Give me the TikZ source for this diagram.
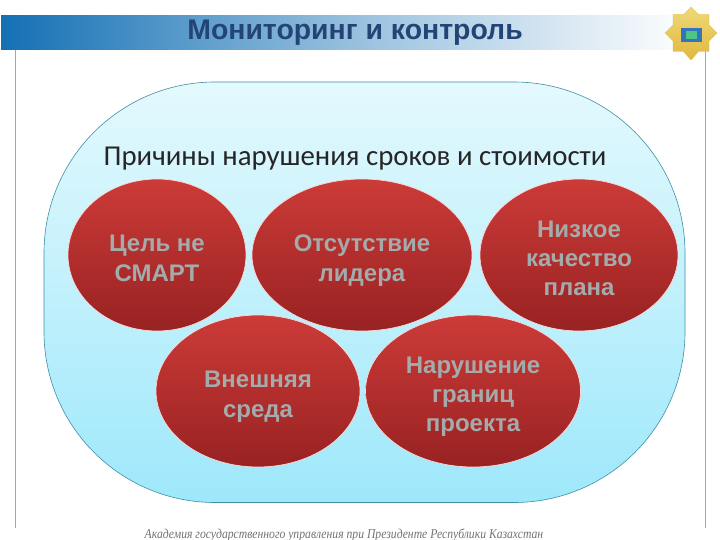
\documentclass[tikz,border=0pt]{standalone}
\usepackage{fontspec}
\setmainfont{Liberation Sans}
\newfontfamily\headfont{Carlito}
\newfontfamily\footfont{Liberation Serif}
\usetikzlibrary{shapes.geometric}
\definecolor{bandblue}{HTML}{1470B4}
\definecolor{titleblue}{HTML}{234576}
\definecolor{blobtop}{HTML}{E4F9FD}
\definecolor{blobbot}{HTML}{9EE8FB}
\definecolor{blobline}{HTML}{3F8FA8}
\definecolor{redtop}{HTML}{CC3B38}
\definecolor{redbot}{HTML}{982222}
\definecolor{metal}{HTML}{A3ABAB}
\definecolor{goldtop}{HTML}{F0D878}
\definecolor{goldbot}{HTML}{E0B840}
\newcommand\lowline[1]{\raisebox{-5pt}[.75em][.2em]{#1}}
\tikzset{
  redell/.style={ellipse,draw=white!85!red,line width=.7pt,top color=redtop,bottom color=redbot,
    inner sep=0pt,outer sep=0pt,font=\fontsize{24}{29.3}\selectfont\bfseries,text=metal,align=center},
}
\begin{document}
\begin{tikzpicture}[x=1pt,y=-1pt]
\useasboundingbox (0,0) rectangle (720,540);
\fill[white] (0,0) rectangle (720,540);
% frame lines
\draw[black!35,line width=.7pt] (15.5,50) -- (15.5,528);
\draw[black!35,line width=.7pt] (705,50) -- (705,528);
% header band
\shade[left color=bandblue,right color=white,middle color=bandblue!45!white] (1,16) rectangle (690,50);
\node[font=\fontsize{28.4}{30}\selectfont\bfseries,text=titleblue] (title) at (355,33) {Мониторинг и контроль};
% emblem
\shade[top color=goldtop,bottom color=goldbot,draw=goldbot,line width=.3pt]
  (691,7) -- (698.5,14.5) -- (709,14.5) -- (709,25) -- (717,33) -- (709,41) -- (709,51.5) -- (698.5,51.5) -- (691,60)
  -- (683.5,51.5) -- (673,51.5) -- (673,41) -- (665,33) -- (673,25) -- (673,14.5) -- (683.5,14.5) -- cycle;
\fill[teal!65!blue!80!white] (681,28) rectangle (702,42);
\fill[green!35!teal!70!white] (686,31) rectangle (697,39);
% main blob
\draw[blobline,line width=.6pt,top color=blobtop,bottom color=blobbot,rounded corners=171pt] (44,82) rectangle (685,502.5);
\node[font=\headfont\fontsize{28.8}{30}\selectfont,text=black!85] (head) at (355,159) {Причины нарушения сроков и стоимости};
% ellipses
\node[redell,minimum width=178pt,minimum height=152pt] (e1) at (157,255) {\lowline{Цель не}\\\lowline{СМАРТ}};
\node[redell,minimum width=220pt,minimum height=152pt] (e2) at (362,255) {\lowline{Отсутствие}\\\lowline{лидера}};
\node[redell,minimum width=198pt,minimum height=152pt] (e3) at (579,255) {\lowline{Низкое}\\\lowline{качество}\\\lowline{плана}};
\node[redell,minimum width=204pt,minimum height=152pt] (e4) at (258,391) {\lowline{Внешняя}\\\lowline{среда}};
\node[redell,minimum width=215pt,minimum height=152pt] (e5) at (473,391) {\lowline{Нарушение}\\\lowline{границ}\\\lowline{проекта}};
% footer
\node[font=\footfont\itshape\fontsize{13.5}{15}\selectfont,text=black!55,xscale=.865,transform shape] (foot) at (344,535) {Академия государственного управления при Президенте Республики Казахстан};
\end{tikzpicture}
\end{document}
